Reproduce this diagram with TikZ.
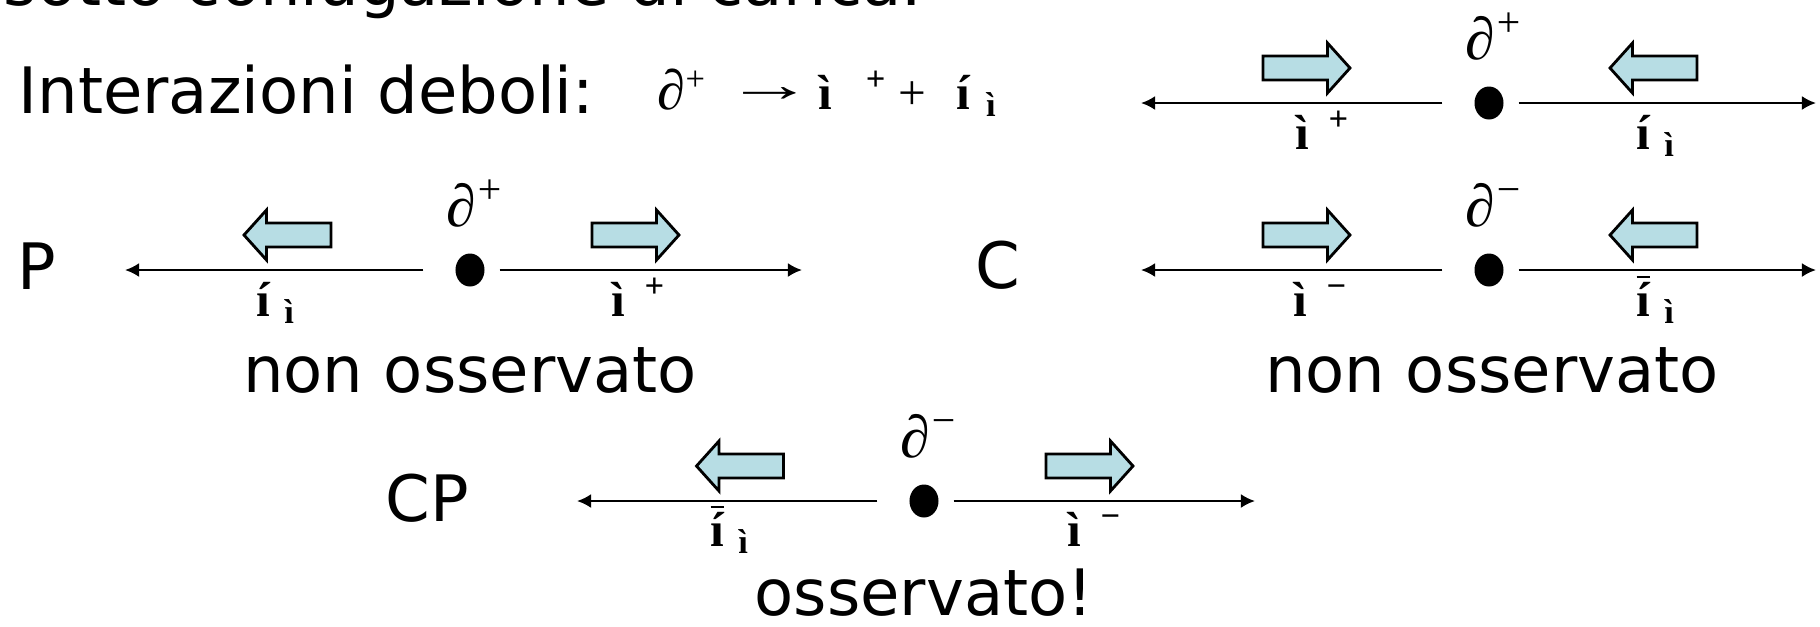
\documentclass[tikz,border=0pt]{standalone}
\usepackage{fontspec}
\setmainfont{DejaVu Sans}
\newfontfamily\symb{Liberation Serif}
\usetikzlibrary{arrows.meta,positioning,shapes.geometric}

\definecolor{blkfill}{RGB}{183,221,228}

\tikzset{
  dot/.style={ellipse,fill=black,inner sep=0pt,minimum width=0.29cm,minimum height=0.33cm},
  axisline/.style={line width=0.7pt,-{Latex[length=4pt,width=4pt]}},
  bigtxt/.style={font=\fontsize{18.2}{22}\selectfont,inner sep=0pt,anchor=base},
  fml/.style={font=\symb\fontsize{14}{16}\selectfont,inner sep=0pt,anchor=base west},
  pilab/.style={font=\symb\itshape\fontsize{17}{19}\selectfont,inner sep=0pt,anchor=base},
  partlab/.style={font=\symb\bfseries\fontsize{14}{16}\selectfont,inner sep=0pt,anchor=base west},
  blk/.pic={
    \draw[line width=0.8pt,fill=blkfill] (-43.5,-12) -- (21,-12) -- (21,-25)
      -- (43.5,0) -- (21,25) -- (21,12) -- (-43.5,12) -- cycle;
  }
}

\begin{document}
\begin{tikzpicture}[x=0.01cm,y=-0.01cm]
  \useasboundingbox (0,0) rectangle (1820,626);
  % header
  \node[bigtxt,anchor=base west] (title) at (3,5) {sotto coniugazione di carica.};
  \node[bigtxt,anchor=base west] (weak) at (18,113) {Interazioni deboli:};
  % decay formula
  \node[fml] (f1) at (657,109) {{\fontsize{16}{18}\selectfont\itshape ∂}\textsuperscript{+}};
  \node[fml] (f2) at (725,101) {\scalebox{1.8}[1]{→}};
  \node[fml] (f3) at (818,109) {\bfseries ì\hspace{9.5pt}\textsuperscript{+}};
  \node[fml] (f4) at (898,109) {+};
  \node[fml] (f5) at (956,109) {\bfseries í\hspace{4.5pt}\textsubscript{ì}};
  % decay at rest
  \node[dot] (pi1) at (1489,103) {};
  \node[pilab] (pi1lab) at (1495,59) {∂\textsuperscript{+}};
  \coordinate (pi1l) at (1141,103);
  \coordinate (pi1r) at (1816,103);
  \draw[axisline] ([xshift=-0.315cm]pi1.west) -- (pi1l);
  \draw[axisline] ([xshift=0.145cm]pi1.east) -- (pi1r);
  \pic at (1306.5,68) {blk};
  \pic[xscale=-1] at (1653.5,68) {blk};
  \node[partlab] (mu1) at (1295,149) {ì\hspace{5.5pt}\textsuperscript{+}};
  \node[partlab] (nu1) at (1636,149) {í\hspace{4pt}\textsubscript{ì}};
  % P
  \node[bigtxt,anchor=base west] (opP) at (17,289) {P};
  \node[dot] (pi2) at (470,270) {};
  \node[pilab] (pi2lab) at (476,226) {∂\textsuperscript{+}};
  \coordinate (pi2l) at (125,270);
  \coordinate (pi2r) at (802,270);
  \draw[axisline] ([xshift=-0.315cm]pi2.west) -- (pi2l);
  \draw[axisline] ([xshift=0.145cm]pi2.east) -- (pi2r);
  \pic[xscale=-1] at (287.5,235) {blk};
  \pic at (635.5,235) {blk};
  \node[partlab] (nu2) at (256,316) {í\hspace{4pt}\textsubscript{ì}};
  \node[partlab] (mu2) at (611,316) {ì\hspace{5.5pt}\textsuperscript{+}};
  \node[bigtxt] (noP) at (470,392) {non osservato};
  % C
  \node[bigtxt,anchor=base west] (opC) at (975,288) {C};
  \node[dot] (pi3) at (1489,270) {};
  \node[pilab] (pi3lab) at (1495,226) {∂\textsuperscript{−}};
  \coordinate (pi3l) at (1141,270);
  \coordinate (pi3r) at (1816,270);
  \draw[axisline] ([xshift=-0.315cm]pi3.west) -- (pi3l);
  \draw[axisline] ([xshift=0.145cm]pi3.east) -- (pi3r);
  \pic at (1306.5,235) {blk};
  \pic[xscale=-1] at (1653.5,235) {blk};
  \node[partlab] (mu3) at (1293,316) {ì\hspace{5.5pt}\textsuperscript{−}};
  \node[partlab] (nu3) at (1636,316) {$\overline{\mbox{í}}$\hspace{4pt}\textsubscript{ì}};
  \node[bigtxt] (noC) at (1492,392) {non osservato};
  % CP
  \node[bigtxt,anchor=base west] (opCP) at (385,521) {CP};
  \node[dot] (pi4) at (924,501) {};
  \node[pilab] (pi4lab) at (930,457) {∂\textsuperscript{−}};
  \coordinate (pi4l) at (577,501);
  \coordinate (pi4r) at (1255,501);
  \draw[axisline] ([xshift=-0.315cm]pi4.west) -- (pi4l);
  \draw[axisline] ([xshift=0.145cm]pi4.east) -- (pi4r);
  \pic[xscale=-1] at (740,466) {blk};
  \pic at (1089.5,466) {blk};
  \node[partlab] (nu4) at (710,546) {$\overline{\mbox{í}}$\hspace{4pt}\textsubscript{ì}};
  \node[partlab] (mu4) at (1067,546) {ì\hspace{5.5pt}\textsuperscript{−}};
  \node[bigtxt] (yesCP) at (924,615) {osservato!};
\end{tikzpicture}
\end{document}
